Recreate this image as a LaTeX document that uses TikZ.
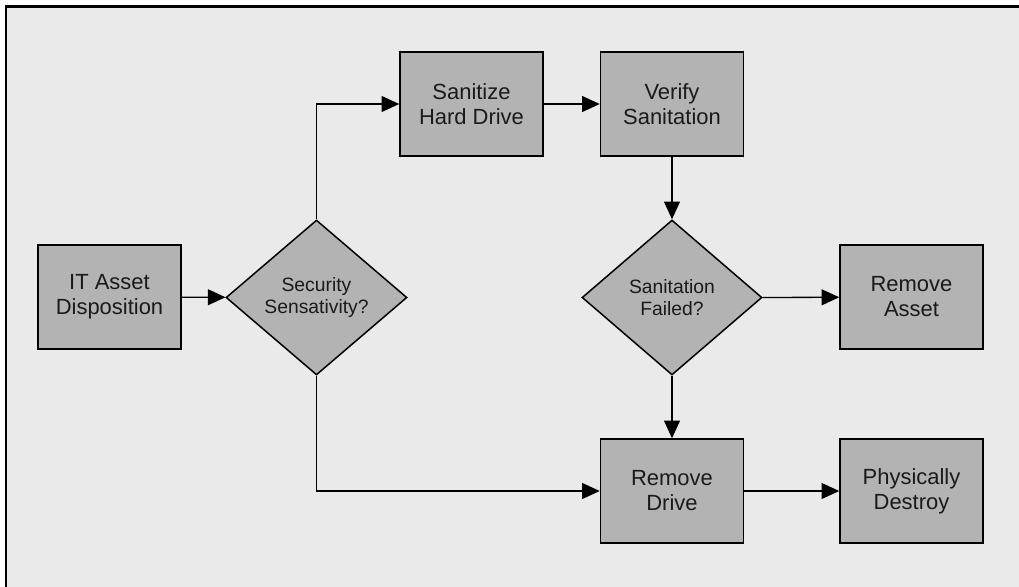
\documentclass[tikz,border=0pt]{standalone}
\usepackage{fontspec}
\setmainfont{Liberation Sans}
\usetikzlibrary{arrows.meta, shapes.geometric}
\definecolor{panelgray}{HTML}{EAEAEA}
\definecolor{boxgray}{HTML}{B3B3B3}
\definecolor{textgray}{HTML}{1A1A1A}

\begin{document}
\begin{tikzpicture}[x=0.02cm, y=-0.02cm,
		step-box/.style={draw, line width=0.85pt, fill=boxgray, text=textgray, minimum width=2.86cm, minimum height=2.08cm, align=center, font=\fontsize{12.5}{14.2}\selectfont},
		decision/.style={draw, diamond, line width=0.85pt, fill=boxgray, text=textgray, minimum width=3.62cm, minimum height=3.1cm, inner sep=0pt, align=center, font=\fontsize{11}{12.3}\selectfont},
		flow/.style={-{Triangle[length=10pt, width=9pt]}, line width=0.75pt}]
				\useasboundingbox (0, 0) rectangle (1019, 586);
				\draw[line width=1.2pt, fill=panelgray] (6, 6.5) rectangle (1040, 610);

				\node[step-box] at (109.5, 297) (it-asset-disposition) {IT Asset\\Disposition};
				\node[decision] at (316.5, 297.5) (security-sensitivity) {Security\\Sensativity?};
				\node[step-box] at (471.5, 104) (sanitize-hard-drive) {Sanitize\\Hard Drive};
				\node[step-box] at (672, 104) (verify-sanitation) {Verify\\Sanitation};
				\node[decision, minimum width=3.6cm] at (672, 297.5) (sanitation-failed) {Sanitation\\Failed?};
				\node[step-box] at (911.5, 297) (remove-asset) {Remove\\Asset};
				\node[step-box] at (672, 491) (remove-drive) {Remove\\Drive};
				\node[step-box] at (911.5, 491) (physically-destroy) {Physically\\Destroy};

				\draw[flow] (it-asset-disposition) -- (security-sensitivity);
				\draw[flow] (security-sensitivity.north) |- (sanitize-hard-drive.west);
				\draw[flow] (sanitize-hard-drive) -- (verify-sanitation);
				\draw[flow] (verify-sanitation) -- (sanitation-failed);
				\draw[flow] (sanitation-failed.east) -- (remove-asset);
				\draw[flow] (sanitation-failed.south) -- (remove-drive);
				\draw[flow] (security-sensitivity.south) |- (remove-drive.west);
				\draw[flow] (remove-drive) -- (physically-destroy);
			\end{tikzpicture}
\end{document}
